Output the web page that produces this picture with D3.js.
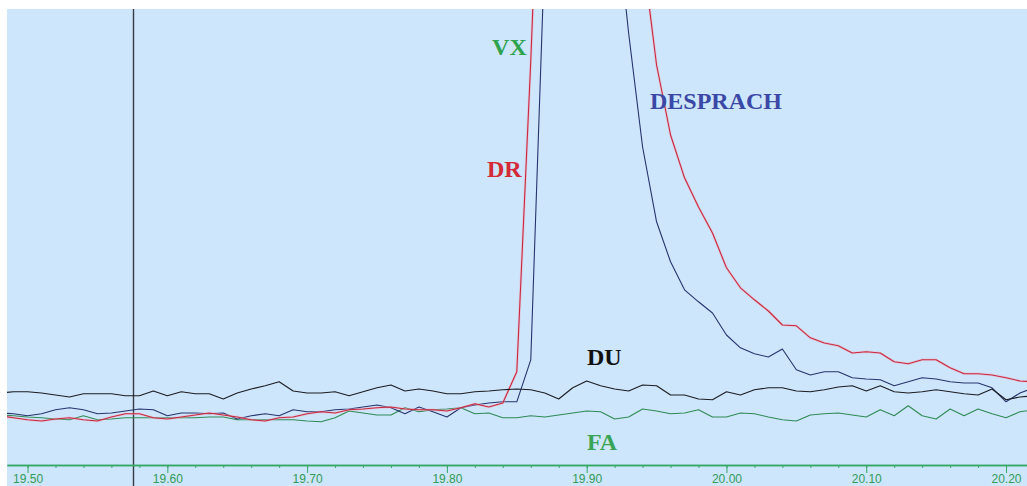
<!DOCTYPE html>
<html>
<head>
<meta charset="utf-8">
<script src="https://cdn.jsdelivr.net/npm/d3@7"></script>
<style>
  body { margin: 0; background: #fff; }
  svg { display: block; }
  .tick text { font-family: "Liberation Sans", Arial, sans-serif; font-size: 12px; fill: #329a58; }
  .lbl { font-family: "Liberation Serif", "Times New Roman", serif; font-weight: bold; font-size: 24px; }
</style>
</head>
<body>
<div id="chart"></div>
<script>
// time grid, one sample every 0.01 from 19.48 to 20.22
var times = d3.range(75).map(function(i) { return +(19.48 + i * 0.01).toFixed(2); });

var duValues = [
    18.0, 18.3, 18.3, 18.0, 17.5, 17.0, 17.8, 17.8, 17.8, 17.3,
    17.3, 18.5, 17.3, 18.3, 17.8, 17.8, 16.5, 18.0, 19.0, 19.8,
    20.8, 18.5, 18.0, 18.0, 18.3, 17.3, 18.3, 19.3, 20.0, 18.5,
    19.0, 18.5, 17.8, 17.8, 18.3, 18.5, 18.8, 19.0, 18.8, 18.0,
    16.5, 19.3, 21.0, 19.8, 19.0, 18.5, 20.0, 19.8, 17.5, 17.5,
    16.5, 16.3, 18.3, 17.5, 18.8, 19.3, 19.3, 18.5, 18.3, 18.8,
    19.5, 19.8, 18.5, 19.8, 18.3, 18.0, 18.3, 18.8, 18.3, 17.8,
    17.5, 19.0, 16.3, 17.0, 17.3
];
var desprachValues = [
    13.0, 12.8, 12.3, 12.8, 13.8, 14.3, 13.8, 12.8, 13.0, 13.5,
    14.0, 13.8, 12.3, 13.0, 13.0, 12.8, 13.0, 11.5, 12.3, 12.8,
    12.3, 13.8, 13.3, 13.3, 13.8, 14.0, 14.5, 15.0, 14.3, 12.8,
    14.5, 13.3, 12.0, 14.3, 15.0, 15.5, 15.8, 15.8, 26.3, 128.8,
    141, 141, 141, 141, 141, 108, 79.5, 60.8, 50.8, 43.8,
    40.8, 38.0, 32.5, 29.3, 27.8, 27.0, 29.0, 23.8, 22.5, 23.3,
    23.3, 21.8, 21.5, 21.3, 19.8, 20.8, 21.8, 21.5, 20.8, 20.5,
    20.5, 19.3, 15.8, 18.0, 19.3
];
var drValues = [
    12.3, 11.8, 11.3, 11.0, 11.5, 11.8, 11.3, 11.0, 12.0, 12.8,
    12.8, 11.8, 11.5, 12.0, 12.5, 13.0, 12.5, 12.0, 11.3, 11.0,
    11.8, 12.0, 12.8, 13.3, 13.0, 13.8, 14.0, 14.3, 14.5, 14.0,
    13.8, 13.8, 13.5, 14.3, 15.3, 14.5, 15.5, 23.3, 101, 191,
    191, 191, 191, 191, 191, 191, 128, 100, 82.5, 71.8,
    64.5, 58.0, 49.3, 44.3, 41.3, 38.5, 35.0, 34.8, 31.8, 30.5,
    29.8, 28.0, 28.3, 28.0, 25.8, 25.3, 26.3, 26.3, 24.3, 22.8,
    22.8, 22.5, 21.8, 21.0, 20.8
];
var faValues = [
    12.5, 12.3, 12.0, 11.8, 11.5, 11.3, 12.3, 11.3, 11.5, 11.8,
    11.8, 11.8, 11.8, 11.8, 11.8, 12.0, 12.0, 11.3, 11.3, 11.3,
    11.3, 11.3, 11.0, 10.8, 11.8, 13.5, 13.0, 12.5, 12.5, 14.3,
    13.3, 13.8, 14.0, 14.3, 12.8, 13.0, 11.8, 11.8, 12.3, 12.0,
    12.5, 13.0, 13.5, 13.3, 11.5, 12.0, 14.0, 13.5, 12.8, 13.0,
    13.8, 12.0, 12.0, 13.0, 12.8, 12.0, 11.3, 11.0, 12.5, 12.8,
    13.0, 12.5, 12.0, 13.8, 12.3, 14.8, 12.3, 11.5, 14.0, 12.3,
    14.0, 12.8, 11.8, 13.3, 13.8
];

var majorTicks = [19.50, 19.60, 19.70, 19.80, 19.90, 20.00, 20.10, 20.20];
var tickLabels = ["19.50", "19.60", "19.70", "19.80", "19.90", "20.00", "20.10", "20.20"];
var minorTicks = d3.range(19.50, 20.22, 0.02);
var cursorTime = 19.5755;

var seriesNames = ["FA", "DESPRACH", "DR", "DU"];
var seriesColors = ["#2f8a55", "#27346e", "#c8283e", "#1c1c22"];
var seriesHalo = [null, null, "#f3a3b8", null];

var labelNames = ["VX", "DR", "DESPRACH", "DU", "FA"];
var labelColors = ["#2fa24e", "#d42a38", "#3b48a6", "#111111", "#3aa456"];
var labelTimes = [19.8323, 19.8287, 19.9453, 19.9002, 19.9002];
var labelValues = [102.5, 72, 89, 25, 3.75];

// settings
var width = 1027, height = 486,
    plot = { left: 7, top: 9, right: 1027, bottom: 486 },
    axisY = 465;

var x = d3.scaleLinear().domain([19.4853, 20.215]).range([plot.left, plot.right]);
var y = d3.scaleLinear().domain([0, 114]).range([axisY, plot.top]);

var svg = d3.select("#chart").append("svg")
    .attr("width", width)
    .attr("height", height);

svg.append("rect")
    .attr("x", plot.left).attr("y", plot.top)
    .attr("width", plot.right - plot.left).attr("height", plot.bottom - plot.top)
    .attr("fill", "#cde6fc");

svg.append("clipPath").attr("id", "clip")
    .append("rect")
    .attr("x", plot.left).attr("y", plot.top)
    .attr("width", plot.right - plot.left).attr("height", axisY - plot.top);

// cursor line
svg.append("line")
    .attr("x1", Math.round(x(cursorTime)) + 0.5).attr("x2", Math.round(x(cursorTime)) + 0.5)
    .attr("y1", plot.top).attr("y2", plot.bottom)
    .attr("stroke", "#363b48").attr("stroke-width", 1.4);

var allValues = [faValues, desprachValues, drValues, duValues];

var line = d3.line()
    .x(function(d) { return x(d[0]); })
    .y(function(d) { return y(d[1]); });

var lines = svg.append("g").attr("clip-path", "url(#clip)");

allValues.forEach(function(vals, k) {
    var pts = times.map(function(t, i) { return [t, vals[i]]; });
    if (seriesHalo[k]) {
        lines.append("path")
            .datum(pts)
            .attr("d", line)
            .attr("fill", "none")
            .attr("stroke", seriesHalo[k])
            .attr("stroke-opacity", 0.45)
            .attr("stroke-width", 2.6);
    }
    lines.append("path")
        .datum(pts)
        .attr("class", "series " + seriesNames[k])
        .attr("d", line)
        .attr("fill", "none")
        .attr("stroke", seriesColors[k])
        .attr("stroke-width", 1.1)
        .attr("stroke-linejoin", "round");
});

// x axis
var minorAxis = d3.axisBottom(x)
    .tickValues(minorTicks)
    .tickSize(3)
    .tickSizeOuter(0)
    .tickFormat("");

var majorAxis = d3.axisBottom(x)
    .tickValues(majorTicks)
    .tickSize(8)
    .tickSizeOuter(0)
    .tickPadding(1)
    .tickFormat(function(d, i) { return tickLabels[i]; });

var gMinor = svg.append("g").attr("transform", "translate(0," + axisY + ")").call(minorAxis);
var gMajor = svg.append("g").attr("transform", "translate(0," + axisY + ")").call(majorAxis);

[gMinor, gMajor].forEach(function(g) {
    g.select(".domain").attr("stroke", "#35a766").attr("stroke-width", 1.3);
    g.selectAll(".tick line").attr("stroke", "#35a766");
});

// series labels
svg.selectAll(".lbl")
    .data(labelNames)
    .enter().append("text")
        .attr("class", "lbl")
        .attr("x", function(d, i) { return x(labelTimes[i]); })
        .attr("y", function(d, i) { return y(labelValues[i]); })
        .attr("fill", function(d, i) { return labelColors[i]; })
        .text(function(d) { return d; });
</script>
</body>
</html>
